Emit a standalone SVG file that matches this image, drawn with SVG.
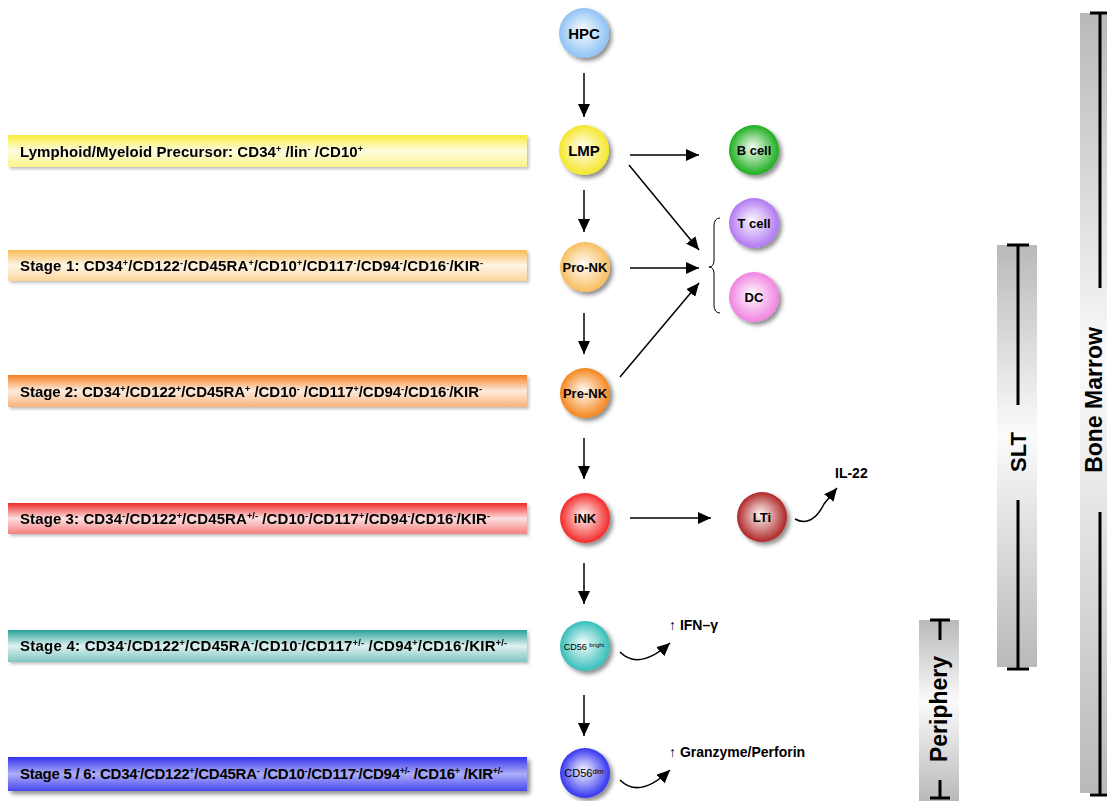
<svg xmlns="http://www.w3.org/2000/svg" width="1107" height="801" viewBox="0 0 1107 801">
<style>
text{font-family:"Liberation Sans",Arial,Helvetica,sans-serif;fill:#000}
.bt{font-size:15px;font-weight:bold}
.sup{font-size:9px;baseline-shift:super}
.cl{font-size:13px;font-weight:bold;text-anchor:middle}
.cb{font-size:15px;font-weight:bold;text-anchor:middle}
.lab{font-size:14px;font-weight:bold}
.side{font-weight:bold;text-anchor:middle}
.conn line,.conn path{stroke:#000;stroke-width:1.5;fill:none}
.cap{stroke:#000;stroke-width:3;fill:none}
</style>
<defs>
<marker id="ah" viewBox="0 0 13 12" refX="13" refY="6" markerWidth="13" markerHeight="12" markerUnits="userSpaceOnUse" orient="auto">
<path d="M0,0 L13,6 L0,12 z" fill="#000"/>
</marker>
<filter id="sh" x="-30%" y="-30%" width="170%" height="170%">
<feDropShadow dx="3" dy="3" stdDeviation="2" flood-color="#000" flood-opacity="0.45"/>
</filter>
<filter id="bsh" x="-5%" y="-30%" width="110%" height="170%">
<feDropShadow dx="2" dy="2" stdDeviation="1.5" flood-color="#000" flood-opacity="0.25"/>
</filter>
<radialGradient id="shine" cx="50%" cy="50%" r="50%" fx="46%" fy="44%">
<stop offset="0" stop-color="#fff" stop-opacity="0.95"/>
<stop offset="0.45" stop-color="#fff" stop-opacity="0.55"/>
<stop offset="1" stop-color="#fff" stop-opacity="0"/>
</radialGradient>
<linearGradient id="bshine" x1="0" y1="0" x2="0" y2="1">
<stop offset="0" stop-color="#fff" stop-opacity="0"/>
<stop offset="0.5" stop-color="#fff" stop-opacity="0.85"/>
<stop offset="1" stop-color="#fff" stop-opacity="0.4"/>
</linearGradient>
<linearGradient id="bshineB" x1="0" y1="0" x2="0" y2="1">
<stop offset="0" stop-color="#fff" stop-opacity="0"/>
<stop offset="0.5" stop-color="#fff" stop-opacity="0.6"/>
<stop offset="1" stop-color="#fff" stop-opacity="0.1"/>
</linearGradient>
<linearGradient id="gray" x1="0" y1="0" x2="0" y2="1">
<stop offset="0" stop-color="#b9b9b9"/>
<stop offset="0.45" stop-color="#fbfbfb"/>
<stop offset="1" stop-color="#b9b9b9"/>
</linearGradient>
</defs>
<rect width="1107" height="801" fill="#fff"/>

<!-- side bars -->
<g id="bone-marrow">
<rect x="1080" y="13" width="27" height="780" fill="url(#gray)"/>
<path class="cap" d="M1100,13 V288 M1100,512 V795 M1090,13 H1110 M1090,795 H1110"/>
<text class="side" font-size="23" transform="translate(1102,400) rotate(-90)">Bone Marrow</text>
</g>
<g id="slt">
<rect x="997" y="245" width="40" height="422" fill="url(#gray)"/>
<path class="cap" d="M1018,245 V405 M1018,500 V669 M1007,245 H1029 M1007,669 H1029"/>
<text class="side" font-size="22" transform="translate(1026,452) rotate(-90)">SLT</text>
</g>
<g id="periphery">
<rect x="919" y="620" width="40" height="181" fill="url(#gray)"/>
<path class="cap" d="M940,620 V640 M940,780 V798 M930,620 H950 M930,798 H950"/>
<text class="side" font-size="23" transform="translate(947,709) rotate(-90)">Periphery</text>
</g>

<!-- stage bars -->
<g id="bar-lmp" filter="url(#bsh)">
<rect x="8" y="135" width="519" height="32" fill="#f9ec3c"/>
<rect x="8" y="135" width="519" height="32" fill="url(#bshine)"/>
<text class="bt" x="20" y="157" textLength="343" lengthAdjust="spacing">Lymphoid/Myeloid Precursor: CD34<tspan class="sup">+</tspan> /lin<tspan class="sup">-</tspan> /CD10<tspan class="sup">+</tspan></text>
</g>
<g id="bar-stage1" filter="url(#bsh)">
<rect x="8" y="250" width="519" height="31" fill="#f8bb55"/>
<rect x="8" y="250" width="519" height="31" fill="url(#bshine)"/>
<text class="bt" x="20" y="271" textLength="463" lengthAdjust="spacing">Stage 1: CD34<tspan class="sup">+</tspan>/CD122<tspan class="sup">-</tspan>/CD45RA<tspan class="sup">+</tspan>/CD10<tspan class="sup">+</tspan>/CD117<tspan class="sup">-</tspan>/CD94<tspan class="sup">-</tspan>/CD16<tspan class="sup">-</tspan>/KIR<tspan class="sup">-</tspan></text>
</g>
<g id="bar-stage2" filter="url(#bsh)">
<rect x="8" y="375" width="519" height="32" fill="#f57f22"/>
<rect x="8" y="375" width="519" height="32" fill="url(#bshine)"/>
<text class="bt" x="20" y="397" textLength="462" lengthAdjust="spacing">Stage 2: CD34<tspan class="sup">+</tspan>/CD122<tspan class="sup">+</tspan>/CD45RA<tspan class="sup">+</tspan> /CD10<tspan class="sup">-</tspan> /CD117<tspan class="sup">+</tspan>/CD94<tspan class="sup">-</tspan>/CD16<tspan class="sup">-</tspan>/KIR<tspan class="sup">-</tspan></text>
</g>
<g id="bar-stage3" filter="url(#bsh)">
<rect x="8" y="503" width="519" height="31" fill="#ee2a2a"/>
<rect x="8" y="503" width="519" height="31" fill="url(#bshine)"/>
<text class="bt" x="20" y="524" textLength="470" lengthAdjust="spacing">Stage 3: CD34<tspan class="sup">-</tspan>/CD122<tspan class="sup">+</tspan>/CD45RA<tspan class="sup">+/-</tspan> /CD10<tspan class="sup">-</tspan>/CD117<tspan class="sup">+</tspan>/CD94<tspan class="sup">-</tspan>/CD16<tspan class="sup">-</tspan>/KIR<tspan class="sup">-</tspan></text>
</g>
<g id="bar-stage4" filter="url(#bsh)">
<rect x="8" y="630" width="519" height="32" fill="#28a098"/>
<rect x="8" y="630" width="519" height="32" fill="url(#bshine)"/>
<text class="bt" x="20" y="651" textLength="487" lengthAdjust="spacing">Stage 4: CD34<tspan class="sup">-</tspan>/CD122<tspan class="sup">+</tspan>/CD45RA<tspan class="sup">-</tspan>/CD10<tspan class="sup">-</tspan>/CD117<tspan class="sup">+/-</tspan> /CD94<tspan class="sup">+</tspan>/CD16<tspan class="sup">-</tspan>/KIR<tspan class="sup">+/-</tspan></text>
</g>
<g id="bar-stage56">
<rect x="8" y="757" width="519" height="34" fill="#3030ee" filter="url(#sh)"/>
<rect x="8" y="757" width="519" height="34" fill="url(#bshineB)"/>
<text class="bt" x="20" y="779" textLength="483" lengthAdjust="spacing">Stage 5 / 6: CD34<tspan class="sup">-</tspan>/CD122<tspan class="sup">+</tspan>/CD45RA<tspan class="sup">-</tspan> /CD10<tspan class="sup">-</tspan>/CD117<tspan class="sup">-</tspan>/CD94<tspan class="sup">+/-</tspan> /CD16<tspan class="sup">+</tspan> /KIR<tspan class="sup">+/-</tspan></text>
</g>

<!-- connectors -->
<g id="connectors" class="conn">
<line x1="584" y1="73" x2="584" y2="117" marker-end="url(#ah)"/>
<line x1="630" y1="155" x2="699" y2="155" marker-end="url(#ah)"/>
<line x1="629" y1="165" x2="699" y2="250" marker-end="url(#ah)"/>
<line x1="584" y1="190" x2="584" y2="232" marker-end="url(#ah)"/>
<line x1="630" y1="268" x2="699" y2="268" marker-end="url(#ah)"/>
<line x1="584" y1="313" x2="584" y2="354" marker-end="url(#ah)"/>
<line x1="620" y1="377" x2="699" y2="283" marker-end="url(#ah)"/>
<line x1="584" y1="438" x2="584" y2="479" marker-end="url(#ah)"/>
<line x1="630" y1="518" x2="711" y2="518" marker-end="url(#ah)"/>
<path d="M795,519 C806,525 816,520 824,504 L837,488" marker-end="url(#ah)"/>
<line x1="584" y1="563" x2="584" y2="604" marker-end="url(#ah)"/>
<path d="M620,652 C633,665 650,661 670,643" marker-end="url(#ah)"/>
<line x1="584" y1="695" x2="584" y2="736" marker-end="url(#ah)"/>
<path d="M620,780 C633,793 650,789 670,770" marker-end="url(#ah)"/>
<path style="stroke-width:1" d="M720,218 Q714,218 714,226 L714,260 Q714,267 709,267 Q714,267 714,274 L714,305 Q714,313 720,313"/>
</g>

<!-- nodes -->
<g id="hpc"><circle cx="584" cy="33" r="25" fill="#8ec2f4" filter="url(#sh)"/><circle cx="584" cy="33" r="25" fill="url(#shine)"/><text class="cb" x="584" y="39">HPC</text></g>
<g id="lmp"><circle cx="584" cy="150" r="25" fill="#f6e62c" filter="url(#sh)"/><circle cx="584" cy="150" r="25" fill="url(#shine)"/><text class="cb" x="584" y="156">LMP</text></g>
<g id="bcell"><circle cx="754" cy="150" r="25" fill="#1fae1f" filter="url(#sh)"/><circle cx="754" cy="150" r="25" fill="url(#shine)"/><text class="cl" x="754" y="155">B cell</text></g>
<g id="tcell"><circle cx="754" cy="223" r="25" fill="#b078f2" filter="url(#sh)"/><circle cx="754" cy="223" r="25" fill="url(#shine)"/><text class="cl" x="754" y="228">T cell</text></g>
<g id="dc"><circle cx="754" cy="297" r="25" fill="#f084e0" filter="url(#sh)"/><circle cx="754" cy="297" r="25" fill="url(#shine)"/><text class="cl" x="754" y="302">DC</text></g>
<g id="pronk"><circle cx="585" cy="267" r="25" fill="#f8be60" filter="url(#sh)"/><circle cx="585" cy="267" r="25" fill="url(#shine)"/><text class="cl" x="585" y="272">Pro-NK</text></g>
<g id="prenk"><circle cx="585" cy="393" r="25" fill="#f5861c" filter="url(#sh)"/><circle cx="585" cy="393" r="25" fill="url(#shine)"/><text class="cl" x="585" y="398">Pre-NK</text></g>
<g id="ink"><circle cx="585" cy="518" r="25" fill="#f42c2c" filter="url(#sh)"/><circle cx="585" cy="518" r="25" fill="url(#shine)"/><text class="cl" x="585" y="523">iNK</text></g>
<g id="lti"><circle cx="762" cy="517" r="25" fill="#b02828" filter="url(#sh)"/><circle cx="762" cy="517" r="25" fill="url(#shine)"/><text class="cl" x="762" y="522">LTi</text></g>
<g id="cd56bright"><circle cx="585" cy="646" r="25" fill="#36beb9" filter="url(#sh)"/><circle cx="585" cy="646" r="25" fill="url(#shine)"/><text x="584" y="650" text-anchor="middle" font-size="9">CD56 <tspan font-size="6" baseline-shift="super">bright</tspan></text></g>
<g id="cd56dim"><circle cx="585" cy="773" r="25" fill="#3636f0" filter="url(#sh)"/><circle cx="585" cy="773" r="25" fill="url(#shine)"/><text x="584" y="777" text-anchor="middle" font-size="11">CD56<tspan font-size="7" baseline-shift="super">dim</tspan></text></g>

<!-- labels -->
<g id="il22"><text class="lab" x="835" y="478">IL-22</text></g>
<g id="ifn"><text class="lab" x="669" y="630">↑ IFN–γ</text></g>
<g id="granzyme"><text class="lab" x="669" y="757">↑ Granzyme/Perforin</text></g>
</svg>
